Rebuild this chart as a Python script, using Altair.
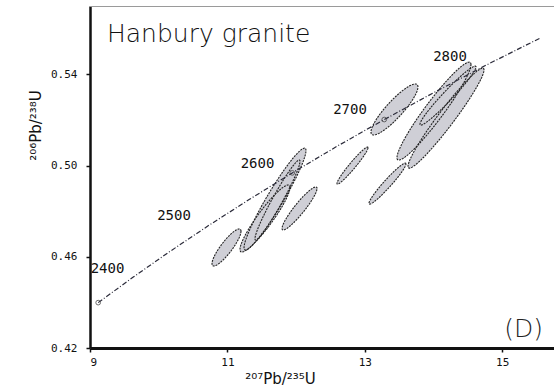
import altair as alt
import numpy as np
import pandas as pd

# Concordia curve points (age in Ma, 207Pb/235U, 206Pb/238U)
conc_age = [2350, 2400, 2450, 2500, 2550, 2600, 2650, 2700, 2750, 2800, 2850]
conc_x = [9.119, 9.630, 10.166, 10.730, 11.322, 11.944, 12.597, 13.283, 14.004, 14.762, 15.557]
conc_y = [0.4399, 0.4511, 0.4624, 0.4738, 0.4852, 0.4968, 0.5085, 0.5202, 0.5320, 0.5440, 0.5560]
marker_ages = [2350, 2600, 2700]

# Age labels along the concordia
label_text = ["2400", "2500", "2600", "2700", "2800"]
label_x = [9.255, 10.223, 11.438, 12.785, 14.240]
label_y = [0.4546, 0.4779, 0.5007, 0.5244, 0.5476]

# Error ellipses: centre, half-extent in x and y, correlation
ell_cx = [10.987, 11.693, 11.729, 11.547, 12.050, 12.821, 13.432, 13.330, 14.007, 14.182, 14.211]
ell_cy = [0.4641, 0.4853, 0.4849, 0.4768, 0.4812, 0.5000, 0.5246, 0.4921, 0.5239, 0.5208, 0.5307]
ell_sx = [0.211, 0.451, 0.3275, 0.364, 0.2547, 0.2256, 0.342, 0.2693, 0.5386, 0.5531, 0.4076]
ell_sy = [0.00811, 0.02236, 0.01754, 0.01469, 0.00943, 0.00811, 0.01118, 0.00899, 0.02148, 0.02192, 0.01293]
ell_rho = [0.875, 0.952, 0.966, 0.925, 0.928, 0.965, 0.885, 0.962, 0.950, 0.964, 0.970]

x_ticks = [9, 11, 13, 15]
y_ticks = [0.42, 0.46, 0.50, 0.54]

# Build ellipse geometry
outline_rows = []
fill_rows = []
t_full = np.linspace(0, 2 * np.pi, 121)
t_half = np.linspace(0, np.pi, 61)
for i, (cx, cy, sx, sy, r) in enumerate(zip(ell_cx, ell_cy, ell_sx, ell_sy, ell_rho)):
    s = np.sqrt(1 - r * r)
    for k, t in enumerate(t_full):
        outline_rows.append({"id": i, "k": k,
                             "x": cx + sx * np.cos(t),
                             "y": cy + sy * (r * np.cos(t) + s * np.sin(t))})
    for t in t_half:
        fill_rows.append({"id": i,
                          "x": cx + sx * np.cos(t),
                          "ylo": cy + sy * (r * np.cos(t) - s * np.sin(t)),
                          "yhi": cy + sy * (r * np.cos(t) + s * np.sin(t))})
outline_df = pd.DataFrame(outline_rows)
fill_df = pd.DataFrame(fill_rows).sort_values(["id", "x"])

conc_df = pd.DataFrame({"age": conc_age, "x": conc_x, "y": conc_y})
mark_df = conc_df[conc_df["age"].isin(marker_ages)]
lab_df = pd.DataFrame({"t": label_text, "x": label_x, "y": label_y})

W, H = 464, 342
xscale = alt.Scale(domain=[9, 15.754], nice=False, zero=False)
yscale = alt.Scale(domain=[0.42, 0.57], nice=False, zero=False)

xaxis = alt.Axis(values=x_ticks, format="d", grid=False,
                 labelFont="DejaVu Sans Mono", labelFontSize=11, labelColor="#111",
                 labelPadding=4, tickSize=4, tickWidth=1.5, tickColor="#111",
                 domainColor="#111", domainWidth=3,
                 title="²⁰⁷Pb/²³⁵U", titleFont="DejaVu Sans", titleFontSize=15,
                 titleFontWeight="normal", titleColor="#111",
                 titleX=190, titleY=30, titleAlign="center", titleBaseline="middle")
yaxis = alt.Axis(values=y_ticks, format=".2f", grid=False,
                 labelFont="DejaVu Sans Mono", labelFontSize=11, labelColor="#111",
                 labelPadding=9, tickSize=4, tickWidth=1.5, tickColor="#111",
                 domainColor="#111", domainWidth=2.5,
                 title="²⁰⁶Pb/²³⁸U", titleFont="DejaVu Sans", titleFontSize=15,
                 titleFontWeight="normal", titleColor="#111",
                 titleX=-55, titleY=119, titleAngle=270, titleAlign="center",
                 titleBaseline="middle")

fills = alt.Chart(fill_df).mark_area(color="#cfcfd6", clip=True).encode(
    x=alt.X("x:Q", scale=xscale, axis=xaxis),
    y=alt.Y("ylo:Q", scale=yscale, axis=yaxis),
    y2="yhi:Q",
    detail="id:N",
)

outlines = alt.Chart(outline_df).mark_line(color="#222", strokeWidth=1.1,
                                           strokeDash=[2, 1], clip=True).encode(
    x="x:Q", y="y:Q", detail="id:N", order="k:Q")

conc = alt.Chart(conc_df).mark_line(color="#2b2b3a", strokeWidth=1.2,
                                    strokeDash=[5, 2, 1, 2], clip=True).encode(
    x="x:Q", y="y:Q", order="age:Q")

markers = alt.Chart(mark_df).mark_point(shape="circle", filled=False, size=22,
                                        color="#333", strokeWidth=1).encode(
    x="x:Q", y="y:Q")

labels = alt.Chart(lab_df).mark_text(font="DejaVu Sans Mono", fontSize=14,
                                     color="#111", align="center",
                                     baseline="middle").encode(
    x="x:Q", y="y:Q", text="t:N")

title_df = pd.DataFrame({"t": ["Hanbury granite"]})
title = alt.Chart(title_df).mark_text(font="DejaVu Sans", fontSize=25,
                                      fontWeight=300, color="#111",
                                      align="left", baseline="alphabetic").encode(
    x=alt.value(17), y=alt.value(36), text="t:N")

panel_df = pd.DataFrame({"t": ["(D)"]})
panel = alt.Chart(panel_df).mark_text(font="DejaVu Sans", fontSize=25,
                                      fontWeight=300, color="#222",
                                      align="right", baseline="alphabetic").encode(
    x=alt.value(453), y=alt.value(331), text="t:N")

topline = alt.Chart(title_df).mark_rule(color="#9a9a9a", strokeWidth=1).encode(
    x=alt.value(0), x2=alt.value(W), y=alt.value(0.5))

chart = alt.layer(fills, outlines, conc, markers, labels, title, panel, topline).properties(
    width=W, height=H,
    autosize=alt.AutoSizeParams(type="none"),
    padding={"left": 90, "top": 6, "right": 0, "bottom": 42},
    background="white",
).configure_view(stroke=None)

chart.save("out.html", embed_options={"renderer": "svg", "actions": False})
